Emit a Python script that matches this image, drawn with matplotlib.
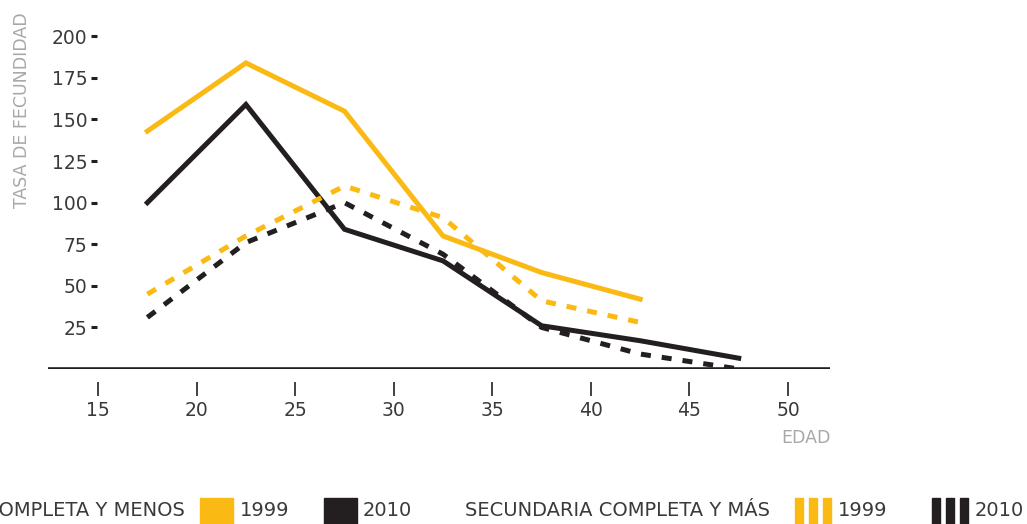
import matplotlib.pyplot as plt

plt.rcParams['font.family'] = ['DejaVu Sans']

# age group midpoints
edad = [17.5, 22.5, 27.5, 32.5, 37.5, 42.5, 47.5]

# fertility rate per education level and year
inc_1999 = [143, 184, 155, 80, 58, 42]
inc_2010 = [100, 159, 84, 65, 26, 17, 6.5]
comp_1999 = [45, 80, 110, 91, 41, 28]
comp_2010 = [31, 76, 100, 69, 25, 9, 0]

xticks = [15, 20, 25, 30, 35, 40, 45, 50]
yticks = [25, 50, 75, 100, 125, 150, 175, 200]

YELLOW = '#FBB913'
BLACK = '#231F20'
TEXT = '#3a3a3a'
GRAY = '#a8a8a8'

fig = plt.figure(figsize=(10.27, 5.24), dpi=100)
ax = fig.add_axes([48 / 1027, 155 / 524, 782 / 1027, 341 / 524])

lw = 3.6
ax.plot(edad[:len(comp_2010)], comp_2010, color=BLACK, lw=lw, ls=(0, (2, 2.2)))
ax.plot(edad[:len(inc_2010)], inc_2010, color=BLACK, lw=lw, solid_joinstyle='miter')
ax.plot(edad[:len(comp_1999)], comp_1999, color=YELLOW, lw=lw, ls=(0, (2, 2.2)))
ax.plot(edad[:len(inc_1999)], inc_1999, color=YELLOW, lw=lw, solid_joinstyle='miter')

ax.axhline(0, color=BLACK, lw=2.6, zorder=5)

ax.set_xlim(12.46, 52.13)
ax.set_ylim(0, 205)

for s in ax.spines.values():
    s.set_visible(False)
ax.spines['bottom'].set_position(('outward', 9))
ax.spines['left'].set_position(('axes', 49 / 782))

ax.set_xticks(xticks)
ax.set_xticklabels([str(v) for v in xticks])
ax.set_yticks(yticks)
ax.set_yticklabels([str(v) for v in yticks])
ax.tick_params(axis='x', length=10, width=1.2, color=BLACK, pad=4,
               labelsize=13.5, labelcolor=TEXT)
ax.tick_params(axis='y', length=4, width=2.2, color=BLACK, pad=3,
               labelsize=13.5, labelcolor=TEXT)

fig.text(22 / 1027, 1 - 110 / 524, 'TASA DE FECUNDIDAD', rotation=90,
         ha='center', va='center', color=GRAY, fontsize=12.5)
fig.text(831 / 1027, 1 - 438 / 524, 'EDAD', ha='right', va='center',
         color=GRAY, fontsize=12.5)

# legend
ly = 1 - 510 / 524
fs = 14
fig.text(185 / 1027, ly, 'SECUNDARIA INCOMPLETA Y MENOS', ha='right', va='center',
         color=TEXT, fontsize=fs)
fig.patches.append(plt.Rectangle((200 / 1027, 0), 33 / 1027, 26 / 524,
                                 transform=fig.transFigure, color=YELLOW))
fig.text(240 / 1027, ly, '1999', ha='left', va='center', color=TEXT, fontsize=fs)
fig.patches.append(plt.Rectangle((324 / 1027, 0), 33 / 1027, 26 / 524,
                                 transform=fig.transFigure, color=BLACK))
fig.text(363 / 1027, ly, '2010', ha='left', va='center', color=TEXT, fontsize=fs)
fig.text(465 / 1027, ly, 'SECUNDARIA COMPLETA Y MÁS', ha='left', va='center',
         color=TEXT, fontsize=fs)
for x0 in [795, 809, 823]:
    fig.patches.append(plt.Rectangle((x0 / 1027, 0), 8 / 1027, 26 / 524,
                                     transform=fig.transFigure, color=YELLOW))
fig.text(838 / 1027, ly, '1999', ha='left', va='center', color=TEXT, fontsize=fs)
for x0 in [932, 946, 960]:
    fig.patches.append(plt.Rectangle((x0 / 1027, 0), 8 / 1027, 26 / 524,
                                     transform=fig.transFigure, color=BLACK))
fig.text(975 / 1027, ly, '2010', ha='left', va='center', color=TEXT, fontsize=fs)

fig.savefig('out.png', dpi=100)
